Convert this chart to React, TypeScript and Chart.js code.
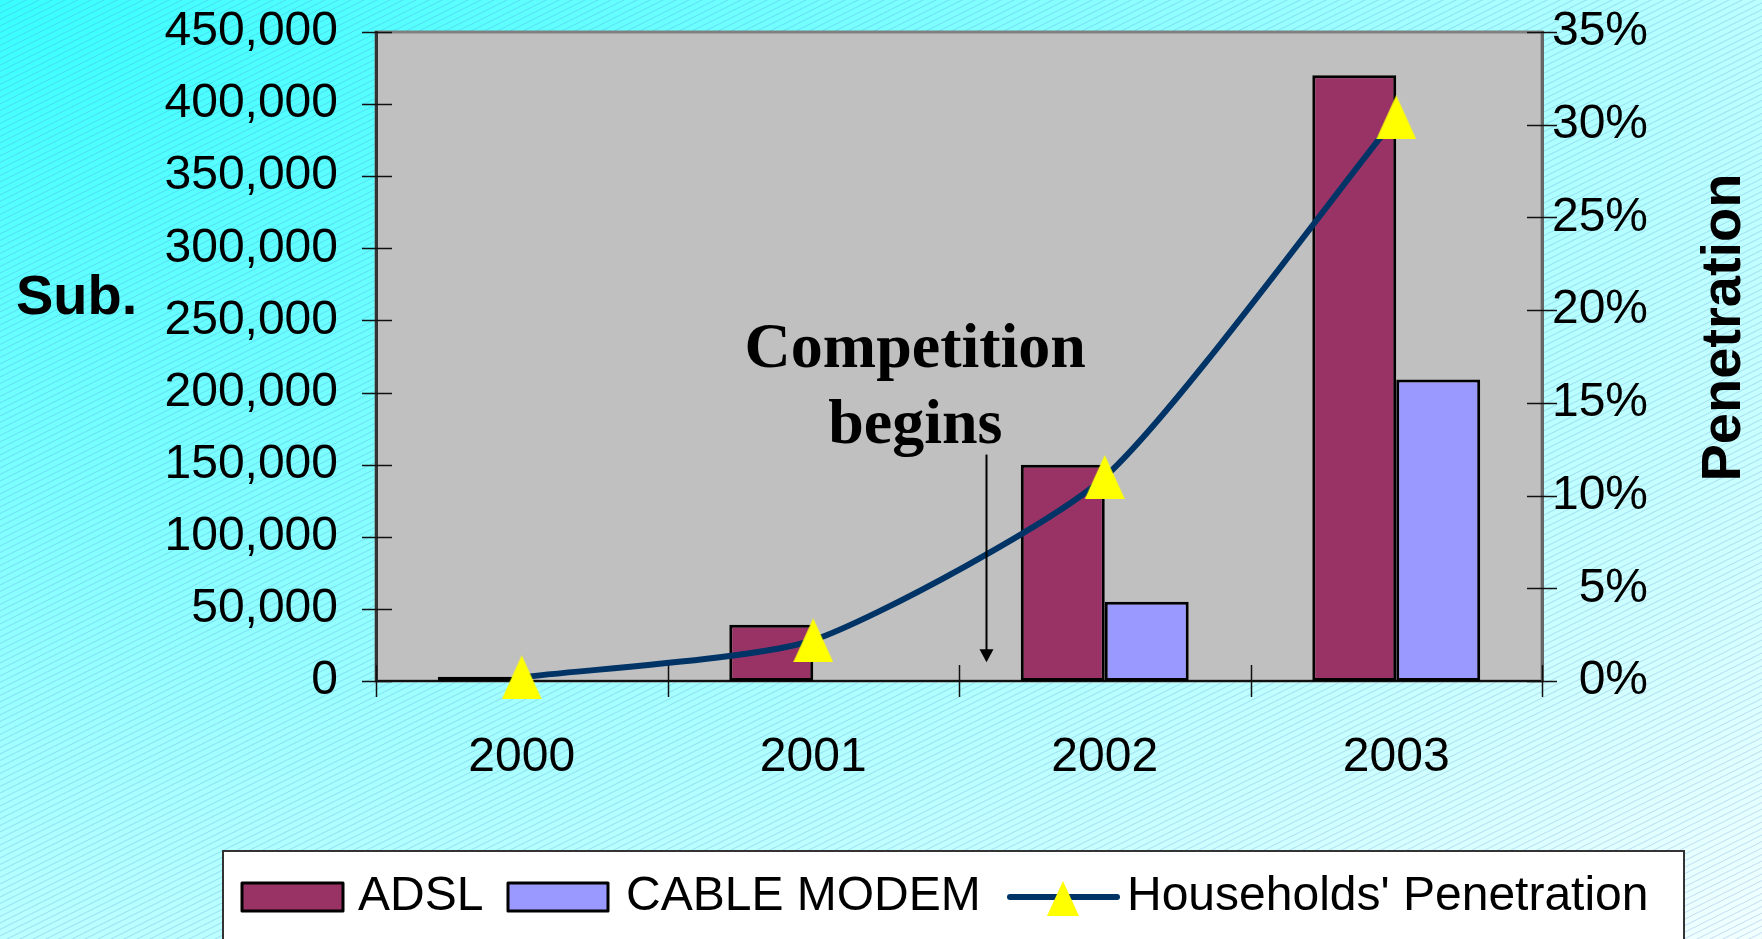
import React, { useEffect, useRef } from 'react';
import { Chart, registerables } from 'chart.js';

Chart.register(...registerables);

// ---- data ----
const categories = ['2000', '2001', '2002', '2003'];
const adslSubs = [3000, 39000, 150000, 420000];
const cableModemSubs = [0, 0, 55000, 209000];
const householdPenetration = [0.2, 2.2, 11.0, 30.4];

const subMin = 0;
const subMax = 450000;
const subStep = 50000;
const penMin = 0;
const penMax = 35;
const penStep = 5;

const seriesLabels = ['ADSL', 'CABLE MODEM', "Households' Penetration"];
const leftTitle = 'Sub.';
const rightTitle = 'Penetration';

// annotation (in data space: category index / subscriber value)
const annotationLines = ['Competition', 'begins'];
const annotationCatIndex = 1.35;
const annotationBaselineValues = [218000, 165000];
const arrowCatIndex = 1.593;
const arrowFromValue = 157000;
const arrowToValue = 13000;

// ---- styles ----
const ADSL_COLOR = '#993366';
const CABLE_COLOR = '#9999FF';
const LINE_COLOR = '#003366';
const MARKER_COLOR = '#FFFF00';
const FONT = '"Liberation Sans", Arial, sans-serif';
const SERIF = '"Liberation Serif", "Times New Roman", serif';

function makeTriangle(w: number, h: number, color: string) {
  const c = document.createElement('canvas');
  c.width = w;
  c.height = h;
  const g = c.getContext('2d')!;
  g.fillStyle = color;
  g.beginPath();
  g.moveTo(w / 2, 0);
  g.lineTo(w, h);
  g.lineTo(0, h);
  g.closePath();
  g.fill();
  return c;
}

const backgroundPlugin = {
  id: 'bgPlugin',
  beforeDraw(chart: any) {
    const { ctx, width: W, height: H, chartArea: a } = chart;
    ctx.save();
    ctx.save();
    ctx.scale(1, H / W);
    const g = ctx.createRadialGradient(0, 0, 0, 0, 0, W * Math.SQRT2);
    g.addColorStop(0, '#38FFFF');
    g.addColorStop(1, '#F2FFFF');
    ctx.fillStyle = g;
    ctx.fillRect(0, 0, W, W);
    ctx.restore();
    ctx.strokeStyle = 'rgba(70,120,200,0.26)';
    ctx.lineWidth = 1;
    ctx.beginPath();
    for (let c = 0; c < H + W * 0.5 + 10; c += 6.5) {
      ctx.moveTo(0, c);
      ctx.lineTo(W, c - W * 0.5);
    }
    ctx.stroke();
    ctx.fillStyle = '#C0C0C0';
    ctx.fillRect(a.left, a.top, a.right - a.left, a.bottom - a.top);
    ctx.strokeStyle = '#808080';
    ctx.lineWidth = 3;
    ctx.strokeRect(a.left, a.top, a.right - a.left, a.bottom - a.top);
    ctx.restore();
  },
};

const ticksPlugin = {
  id: 'crossTicks',
  beforeDatasetsDraw(chart: any) {
    const { ctx, chartArea: a, scales } = chart;
    const x = scales.x;
    const y = scales.y;
    const y1 = scales.y1;
    ctx.save();
    ctx.strokeStyle = '#111';
    ctx.lineWidth = 1.5;
    ctx.beginPath();
    y.ticks.forEach((t: any) => {
      const py = Math.round(y.getPixelForValue(t.value)) + 0.5;
      ctx.moveTo(a.left - 14, py);
      ctx.lineTo(a.left + 16, py);
    });
    y1.ticks.forEach((t: any) => {
      const py = Math.round(y1.getPixelForValue(t.value)) + 0.5;
      ctx.moveTo(a.right - 15, py);
      ctx.lineTo(a.right + 15, py);
    });
    for (let i = 0; i <= categories.length; i++) {
      const px = Math.round(x.getPixelForValue(i - 0.5)) + 0.5;
      ctx.moveTo(px, a.bottom - 16);
      ctx.lineTo(px, a.bottom + 16);
    }
    ctx.stroke();
    ctx.restore();
  },
};

const annotationPlugin = {
  id: 'competitionNote',
  afterDatasetsDraw(chart: any) {
    const { ctx, scales } = chart;
    const x = scales.x;
    const y = scales.y;
    ctx.save();
    ctx.fillStyle = '#000';
    ctx.font = `bold 64px ${SERIF}`;
    ctx.textAlign = 'center';
    ctx.textBaseline = 'alphabetic';
    const tx = x.getPixelForValue(annotationCatIndex);
    annotationLines.forEach((line, i) => {
      ctx.fillText(line, tx, y.getPixelForValue(annotationBaselineValues[i]));
    });
    const ax = Math.round(x.getPixelForValue(arrowCatIndex)) + 0.5;
    const ay0 = y.getPixelForValue(arrowFromValue);
    const ay1 = y.getPixelForValue(arrowToValue);
    ctx.strokeStyle = '#000';
    ctx.lineWidth = 2;
    ctx.beginPath();
    ctx.moveTo(ax, ay0);
    ctx.lineTo(ax, ay1 - 10);
    ctx.stroke();
    ctx.beginPath();
    ctx.moveTo(ax, ay1);
    ctx.lineTo(ax - 7, ay1 - 13);
    ctx.lineTo(ax + 7, ay1 - 13);
    ctx.closePath();
    ctx.fill();
    ctx.restore();
  },
};

const titlesAndLegendPlugin = {
  id: 'titlesLegend',
  afterDraw(chart: any) {
    const { ctx, chartArea: a } = chart;
    ctx.save();
    ctx.fillStyle = '#000';
    ctx.font = `bold 56px ${FONT}`;
    ctx.textAlign = 'left';
    ctx.textBaseline = 'alphabetic';
    ctx.fillText(leftTitle, 16, a.top + 282);
    ctx.save();
    ctx.translate(1725, 327.5);
    ctx.rotate(-Math.PI / 2);
    ctx.textAlign = 'center';
    ctx.textBaseline = 'middle';
    ctx.fillText(rightTitle, 0, 0);
    ctx.restore();

    const bx = 223;
    const by = 851;
    ctx.fillStyle = '#FFFFFF';
    ctx.fillRect(bx, by, 1461, 120);
    ctx.strokeStyle = '#333';
    ctx.lineWidth = 2;
    ctx.strokeRect(bx, by, 1461, 120);

    const base = 910;
    ctx.lineJoin = 'round';
    ctx.fillStyle = ADSL_COLOR;
    ctx.fillRect(242, 883, 101, 28);
    ctx.strokeStyle = '#000';
    ctx.lineWidth = 3;
    ctx.strokeRect(242, 883, 101, 28);
    ctx.fillStyle = CABLE_COLOR;
    ctx.fillRect(508, 883, 100, 28);
    ctx.strokeRect(508, 883, 100, 28);
    ctx.strokeStyle = LINE_COLOR;
    ctx.lineWidth = 6;
    ctx.lineCap = 'round';
    ctx.beginPath();
    ctx.moveTo(1010, 897);
    ctx.lineTo(1117, 897);
    ctx.stroke();
    ctx.fillStyle = MARKER_COLOR;
    ctx.beginPath();
    ctx.moveTo(1063, 881);
    ctx.lineTo(1079, 916);
    ctx.lineTo(1047, 916);
    ctx.closePath();
    ctx.fill();

    ctx.fillStyle = '#000';
    ctx.font = `48px ${FONT}`;
    ctx.textAlign = 'left';
    ctx.textBaseline = 'alphabetic';
    ctx.fillText(seriesLabels[0], 358, base);
    ctx.fillText(seriesLabels[1], 626, base);
    ctx.fillText(seriesLabels[2], 1127, base);
    ctx.restore();
  },
};

export default function App() {
  const ref = useRef<HTMLCanvasElement>(null);

  useEffect(() => {
    document.body.style.margin = '0';
    const canvas = ref.current!;
    const marker = makeTriangle(40, 44, MARKER_COLOR);
    Chart.defaults.font.family = FONT;
    Chart.defaults.font.size = 48;
    Chart.defaults.color = '#000';

    const chart = new Chart(canvas, {
      type: 'bar',
      data: {
        labels: categories,
        datasets: [
          {
            type: 'line',
            label: seriesLabels[2],
            data: householdPenetration,
            yAxisID: 'y1',
            borderColor: LINE_COLOR,
            borderWidth: 6,
            tension: 0.2,
            fill: false,
            pointStyle: marker as any,
            pointRadius: 22,
            pointHoverRadius: 22,
            clip: false as any,
            order: 0,
            borderCapStyle: 'round',
            borderJoinStyle: 'round',
          } as any,
          {
            type: 'bar',
            label: seriesLabels[0],
            data: adslSubs,
            yAxisID: 'y',
            backgroundColor: ADSL_COLOR,
            borderColor: '#000',
            borderWidth: 3,
            borderSkipped: false,
            categoryPercentage: 0.576,
            barPercentage: 1,
            order: 1,
          } as any,
          {
            type: 'bar',
            label: seriesLabels[1],
            data: cableModemSubs,
            yAxisID: 'y',
            backgroundColor: CABLE_COLOR,
            borderColor: '#000',
            borderWidth: 3,
            borderSkipped: false,
            categoryPercentage: 0.576,
            barPercentage: 1,
            order: 1,
          } as any,
        ],
      },
      options: {
        responsive: false,
        animation: false,
        devicePixelRatio: 1,
        layout: { padding: { top: 32, right: 114, left: 0, bottom: 0 } },
        plugins: {
          legend: { display: false },
          tooltip: { enabled: false },
          title: { display: false },
        },
        scales: {
          x: {
            type: 'category',
            offset: true,
            grid: { display: false, drawTicks: false, offset: true },
            border: { display: true, color: '#111', width: 2 },
            ticks: {
              padding: 48,
              color: '#000',
              font: { size: 48, family: FONT },
              maxRotation: 0,
              autoSkip: false,
            },
            afterFit: (s: any) => {
              s.height = 258;
              s.paddingLeft = 0;
              s.paddingRight = 0;
            },
          },
          y: {
            type: 'linear',
            position: 'left',
            min: subMin,
            max: subMax,
            grid: { display: false, drawTicks: false },
            border: { display: true, color: '#333', width: 3 },
            ticks: {
              stepSize: subStep,
              padding: 38,
              color: '#000',
              font: { size: 48, family: FONT },
              callback: (v: any) => Number(v).toLocaleString('en-US'),
            },
            afterFit: (s: any) => {
              s.width = 376;
              s.paddingTop = 0;
              s.paddingBottom = 0;
            },
          },
          y1: {
            type: 'linear',
            position: 'right',
            min: penMin,
            max: penMax,
            grid: { display: false, drawTicks: false },
            border: { display: true, color: '#666', width: 3 },
            ticks: {
              stepSize: penStep,
              padding: 0,
              crossAlign: 'far',
              color: '#000',
              font: { size: 48, family: FONT },
              callback: (v: any) => `${v}%`,
            },
            afterFit: (s: any) => {
              s.width = 106;
              s.paddingTop = 0;
              s.paddingBottom = 0;
            },
          },
        },
      } as any,
      plugins: [backgroundPlugin, ticksPlugin, annotationPlugin, titlesAndLegendPlugin],
    });
    return () => chart.destroy();
  }, []);

  return (
    <div style={{ position: 'fixed', left: 0, top: 0, width: 1762, height: 939, overflow: 'hidden' }}>
      <canvas ref={ref} width={1762} height={939} style={{ display: 'block', width: 1762, height: 939 }} />
    </div>
  );
}
